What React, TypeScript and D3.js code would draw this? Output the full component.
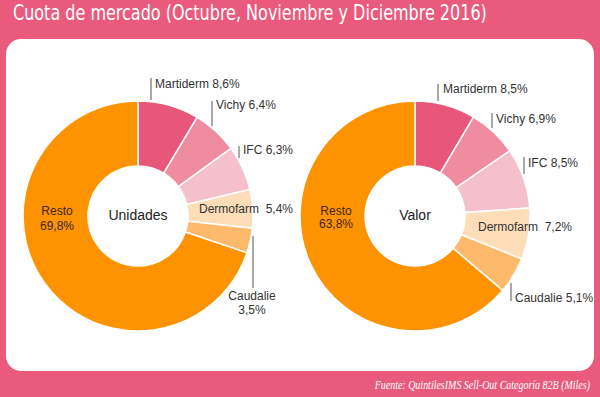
import { arc, pie, PieArcDatum } from "d3";

// shares, same order for both donuts (clockwise from 12 o'clock)
const brands = ["Martiderm", "Vichy", "IFC", "Dermofarm", "Caudalie", "Resto"];
const unidades = [8.6, 6.4, 6.3, 5.4, 3.5, 69.8];
const valor = [8.5, 6.9, 8.5, 7.2, 5.1, 63.8];
const colors = ["#E8577A", "#EF8CA0", "#F6BFCC", "#FEDEB9", "#FDBA6C", "#FE9302"];

const title = "Cuota de mercado (Octubre, Noviembre y Diciembre 2016)";
const source = "Fuente: QuintilesIMS Sell-Out Categoría 82B (Miles)";

const W = 600;
const H = 397;
const R = 115;
const r = 50;
const pink = "#EA5A7D";

const fmt = (v: number) => v.toFixed(1).replace(".", ",") + "%";

// label layout relative to each donut centre
type Lab = { line?: [number, number, number]; tx: number; ty: number[]; anchor?: string; text: (v: number) => string[] };

const leftLabels: Lab[] = [
  { line: [13, -138, -116], tx: 17, ty: [-128], text: (v) => [`Martiderm ${fmt(v)}`] },
  { line: [74, -115, -90], tx: 78, ty: [-107], text: (v) => [`Vichy ${fmt(v)}`] },
  { line: [101, -70, -58], tx: 105, ty: [-62], text: (v) => [`IFC ${fmt(v)}`] },
  { tx: 61, ty: [-3], text: (v) => [`Dermofarm  ${fmt(v)}`] },
  { line: [115, 20, 72], tx: 114, ty: [84, 98], anchor: "middle", text: (v) => ["Caudalie", fmt(v)] },
  { tx: -81, ty: [-1, 14], anchor: "middle", text: (v) => ["Resto", fmt(v)] },
];

const rightLabels: Lab[] = [
  { line: [23, -132, -115], tx: 28, ty: [-123], text: (v) => [`Martiderm ${fmt(v)}`] },
  { line: [77, -103, -88], tx: 81, ty: [-93], text: (v) => [`Vichy ${fmt(v)}`] },
  { line: [109, -59, -42], tx: 113, ty: [-49], text: (v) => [`IFC ${fmt(v)}`] },
  { tx: 63, ty: [15], text: (v) => [`Dermofarm  ${fmt(v)}`] },
  { line: [96, 67, 85], tx: 100, ty: [86], text: (v) => [`Caudalie ${fmt(v)}`] },
  { tx: -79, ty: [-1, 12], anchor: "middle", text: (v) => ["Resto", fmt(v)] },
];

const labelFont = "'Liberation Sans', Arial, sans-serif";

function Donut({ cx, cy, values, labels, center }: { cx: number; cy: number; values: number[]; labels: Lab[]; center: string }) {
  const slices = pie<number>().sort(null).value((d) => d)(values);
  const arcGen = arc<PieArcDatum<number>>().innerRadius(r).outerRadius(R);
  return (
    <g transform={`translate(${cx},${cy})`}>
      {slices.map((s, i) => (
        <path key={brands[i]} d={arcGen(s) || ""} fill={colors[i]} stroke="#fff" strokeWidth={1.5} />
      ))}
      <text x={0} y={4} textAnchor="middle" fontFamily={labelFont} fontSize={14} fill="#222">
        {center}
      </text>
      {labels.map((l, i) => (
        <g key={brands[i]}>
          {l.line && <line x1={l.line[0]} x2={l.line[0]} y1={l.line[1]} y2={l.line[2]} stroke="#555" strokeWidth={1} />}
          {l.text(values[i]).map((t, j) => (
            <text
              key={j}
              x={l.tx}
              y={l.ty[j]}
              textAnchor={l.anchor || "start"}
              fontFamily={labelFont}
              fontSize={12}
              fill={brands[i] === "Resto" ? "#3d2610" : "#333"}
              style={{ whiteSpace: "pre" }}
            >
              {t}
            </text>
          ))}
        </g>
      ))}
    </g>
  );
}

export default function App() {
  return (
    <div style={{ position: "absolute", left: 0, top: 0 }}>
      <svg width={W} height={H} viewBox={`0 0 ${W} ${H}`}>
        <rect x={0} y={0} width={W} height={H} fill={pink} />
        <text
          transform="translate(13,20) scale(0.86,1)"
          fontFamily="'Liberation Sans Narrow', 'DejaVu Sans Condensed', sans-serif"
          fontSize={22}
          fill="#fff"
          textLength={551}
          lengthAdjust="spacingAndGlyphs"
        >
          {title}
        </text>
        <rect x={6} y={39} width={588} height={332} rx={15} fill="#fff" />
        <Donut cx={138} cy={216} values={unidades} labels={leftLabels} center="Unidades" />
        <Donut cx={415} cy={216} values={valor} labels={rightLabels} center="Valor" />
        <text
          transform="translate(590,389) scale(0.8,1)"
          textAnchor="end"
          fontFamily="'Liberation Serif', serif"
          fontStyle="italic"
          fontSize={12.5}
          fill="#fff"
        >
          {source}
        </text>
      </svg>
    </div>
  );
}
